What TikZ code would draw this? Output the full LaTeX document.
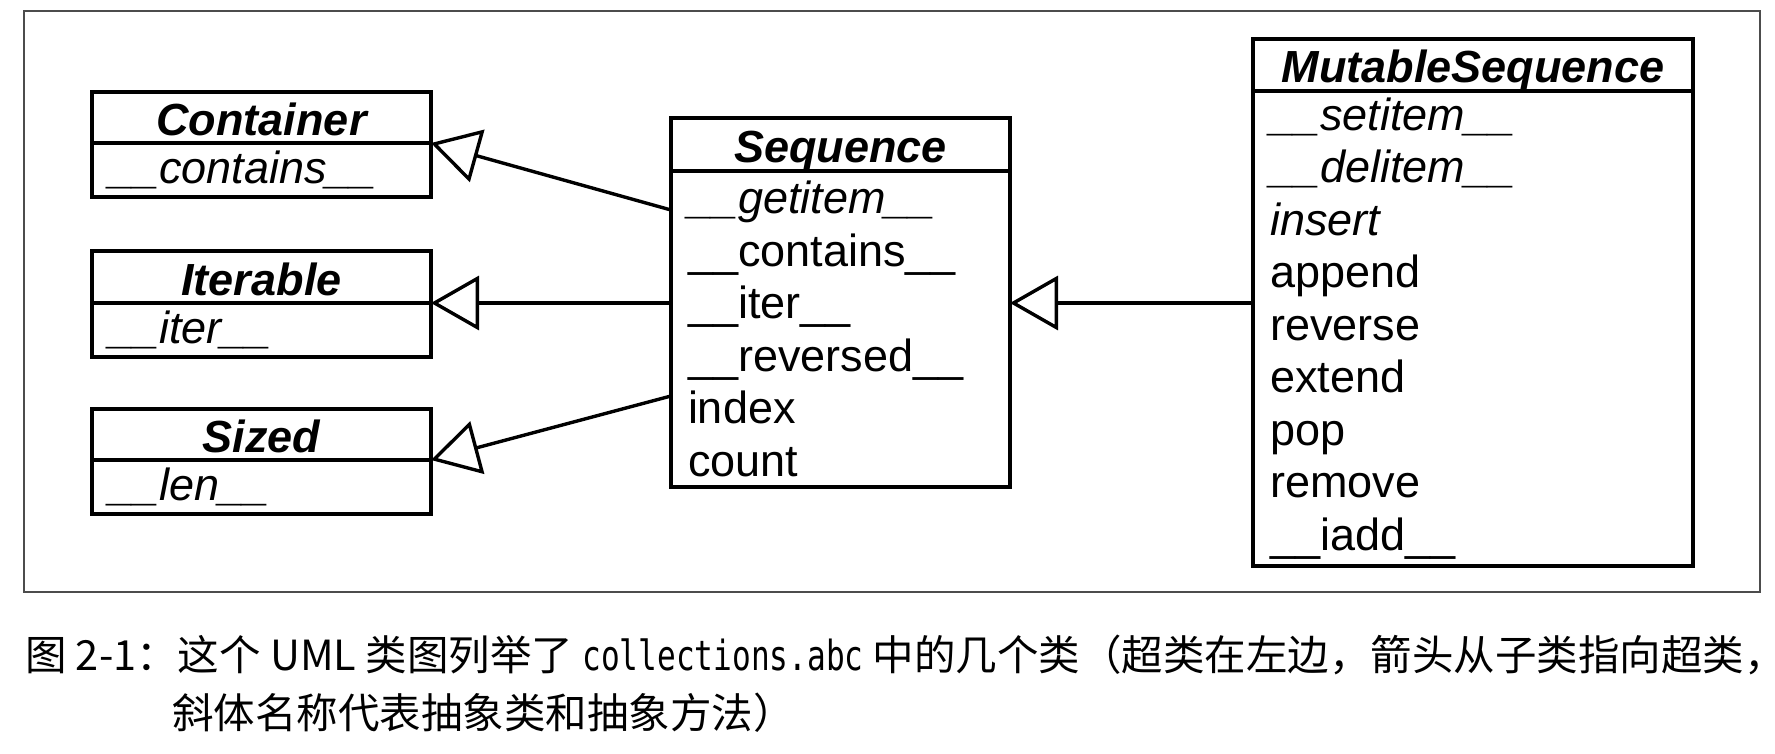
\documentclass[tikz,border=0pt]{standalone}
\usepackage{fontspec}
\setmainfont{Liberation Sans}
\newfontfamily\cjkfont{Noto Sans CJK SC}
\newfontfamily\codefont[FakeStretch=0.75]{DejaVu Sans Mono}
\usetikzlibrary{arrows.meta}
\usetikzlibrary{positioning}
\def\umlfont{\fontsize{45}{52.5}\selectfont}
\def\capfont{\cjkfont\fontsize{41.5}{48}\selectfont}

\begin{document}
\begin{tikzpicture}[x=1pt, y=-1pt,
		classhead/.style={draw, line width=3.8pt, outer sep=0pt, inner sep=0pt,
			text height=37pt, text depth=1pt, font=\umlfont\bfseries\itshape},
		classbody/.style={draw, line width=3.8pt, outer sep=0pt, inner xsep=17pt,
			inner ysep=0pt, align=left, font=\umlfont},
		inherit/.style={line width=3.4pt, -{Triangle[open, length=48pt, width=54pt]}}]
		\useasboundingbox (0,0) rectangle (1775,754);
		\draw[line width=1.5pt, black!70] (24,11) rectangle (1760,592);
		% superclasses
		\node[classhead, minimum width=339pt, minimum height=51pt, anchor=north west] (container) at (92,92) {Container};
		\node[classbody, text width=305pt, minimum height=54pt, below=0pt of container] (containerops) {\itshape\_\_contains\_\_};
		\node[classhead, minimum width=339pt, minimum height=52pt, anchor=north west] (iterable) at (92,251) {Iterable};
		\node[classbody, text width=305pt, minimum height=54pt, below=0pt of iterable] (iterableops) {\itshape\_\_iter\_\_};
		\node[classhead, minimum width=339pt, minimum height=51pt, anchor=north west] (sized) at (92,409) {Sized};
		\node[classbody, text width=305pt, minimum height=54pt, below=0pt of sized] (sizedops) {\itshape\_\_len\_\_};
		% Sequence
		\node[classhead, minimum width=339pt, minimum height=53pt, anchor=north west] (seq) at (671,118) {Sequence};
		\node[classbody, text width=305pt, minimum height=316pt, below=0pt of seq] (seqops) {%
			\textit{\_\_getitem\_\_}\\
			\_\_contains\_\_\\
			\_\_iter\_\_\\
			\_\_reversed\_\_\\
			index\\
			count};
		% MutableSequence
		\node[classhead, minimum width=440pt, minimum height=52pt, anchor=north west] (mutseq) at (1253,39) {MutableSequence};
		\node[classbody, text width=406pt, minimum height=475pt, below=0pt of mutseq] (mutseqops) {%
			\textit{\_\_setitem\_\_}\\
			\textit{\_\_delitem\_\_}\\
			\textit{insert}\\
			append\\
			reverse\\
			extend\\
			pop\\
			remove\\
			\_\_iadd\_\_};
		% subclass -> superclass
		\draw[inherit] ([yshift=-39pt]seqops.north west) -- (container.south east);
		\draw[inherit] (seqops.west |- iterable.south east) -- (iterable.south east);
		\draw[inherit] ([yshift=-225pt]seqops.north west) -- (sized.south east);
		\draw[inherit] (mutseqops.west |- iterable.south east) -- (seqops.east |- iterable.south east);
		% caption
		\node[anchor=west, inner sep=0pt, font=\capfont] (caption1) at (25,655)
			{图 2-1：这个 UML 类图列举了 {\codefont collections.abc} 中的几个类（超类在左边，箭头从子类指向超类，};
		\node[anchor=west, inner sep=0pt, font=\capfont] (caption2) at (172,713)
			{斜体名称代表抽象类和抽象方法）};
	\end{tikzpicture}
\end{document}
